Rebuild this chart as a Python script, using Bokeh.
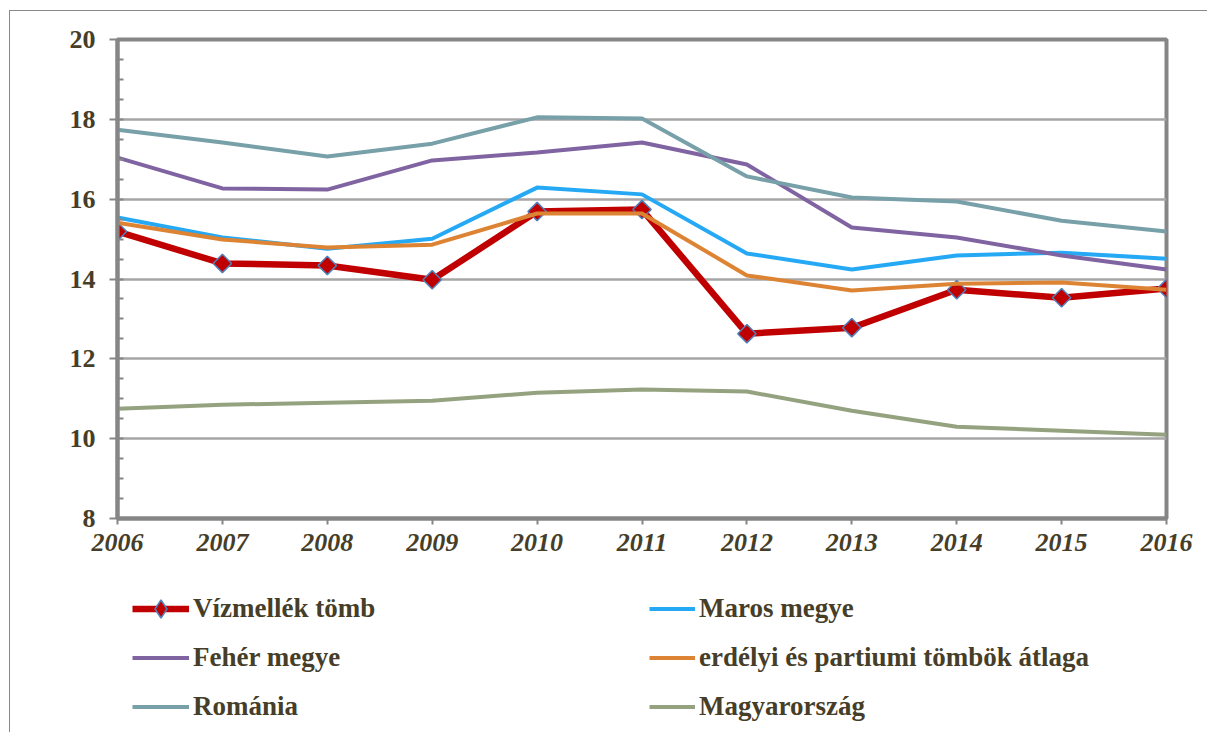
import math
from bokeh.plotting import figure
from bokeh.layouts import column
from bokeh.models import Legend, LegendItem, FixedTicker
from bokeh.embed import file_html
from bokeh.resources import INLINE

years = [2006, 2007, 2008, 2009, 2010, 2011, 2012, 2013, 2014, 2015, 2016]
vizmellek = [15.19, 14.39, 14.34, 13.98, 15.69, 15.74, 12.63, 12.78, 13.73, 13.53, 13.76]
maros = [15.54, 15.04, 14.76, 15.01, 16.29, 16.12, 14.64, 14.24, 14.59, 14.66, 14.51]
feher = [17.04, 16.27, 16.24, 16.97, 17.17, 17.42, 16.87, 15.29, 15.04, 14.59, 14.24]
erdelyi = [15.41, 14.99, 14.79, 14.86, 15.64, 15.64, 14.09, 13.71, 13.88, 13.91, 13.73]
romania = [17.74, 17.42, 17.07, 17.39, 18.05, 18.02, 16.57, 16.04, 15.94, 15.46, 15.19]
magyarorszag = [10.75, 10.85, 10.90, 10.95, 11.15, 11.23, 11.18, 10.70, 10.30, 10.20, 10.10]
y_ticks = [8, 10, 12, 14, 16, 18, 20]

series_names = ["Vízmellék tömb", "Maros megye", "Fehér megye",
                "erdélyi és partiumi tömbök átlaga", "Románia", "Magyarország"]
colors = {"Vízmellék tömb": "#C00000", "Maros megye": "#26A9F5", "Fehér megye": "#8064A2",
          "erdélyi és partiumi tömbök átlaga": "#DD8434", "Románia": "#77A0A9",
          "Magyarország": "#95A27F"}

TXT = "#463E28"
FONT = "Liberation Serif"
AX = "#868686"

p = figure(width=1197, height=548, output_backend="svg", toolbar_location=None,
           x_range=(2006, 2016), y_range=(8, 20),
           min_border_left=107, min_border_right=41, min_border_top=28, min_border_bottom=41)
p.background_fill_color = "white"
p.border_fill_color = "white"
p.outline_line_color = AX
p.outline_line_width = 4

p.xaxis.ticker = FixedTicker(ticks=years)
p.yaxis.ticker = FixedTicker(ticks=y_ticks, minor_ticks=[8 + 0.5 * i for i in range(25)])
for ax in (p.xaxis[0], p.yaxis[0]):
    ax.axis_line_color = AX
    ax.axis_line_width = 4
    ax.major_tick_line_color = AX
    ax.major_tick_line_width = 2
    ax.major_label_text_font = FONT
    ax.major_label_text_color = TXT
    ax.major_label_text_font_size = "26px"
p.xaxis.major_tick_out = 6
p.xaxis.major_tick_in = 0
p.xaxis.minor_tick_line_color = None
p.xaxis.major_label_text_font_style = "bold italic"
p.xaxis.major_label_standoff = 9
p.yaxis.major_label_text_font_style = "bold"
p.yaxis.major_tick_out = 8
p.yaxis.major_tick_in = 0
p.yaxis.minor_tick_in = 6
p.yaxis.minor_tick_out = 0
p.yaxis.minor_tick_line_color = AX
p.yaxis.minor_tick_line_width = 2
p.yaxis.major_label_standoff = 14

p.xgrid.grid_line_color = None
p.ygrid.grid_line_color = "#A6A6A6"
p.ygrid.grid_line_width = 2.5

p.line(years, vizmellek, line_color=colors["Vízmellék tömb"], line_width=6.5)
p.scatter(years, vizmellek, marker="square", angle=math.pi / 4, size=13,
          fill_color=colors["Vízmellék tömb"], line_color="#4F81BD", line_width=1.5)
p.line(years, maros, line_color=colors["Maros megye"], line_width=4)
p.line(years, feher, line_color=colors["Fehér megye"], line_width=4)
p.line(years, erdelyi, line_color=colors["erdélyi és partiumi tömbök átlaga"], line_width=4)
p.line(years, romania, line_color=colors["Románia"], line_width=4)
p.line(years, magyarorszag, line_color=colors["Magyarország"], line_width=4)

# legend area as a second, axis-less figure (its frame is aligned with the chart's frame)
lf = figure(width=1197, height=173, output_backend="svg", toolbar_location=None,
            x_range=(0, 1), y_range=(0, 1), x_axis_type=None, y_axis_type=None,
            min_border_left=107, min_border_right=41, min_border_top=0, min_border_bottom=0)
lf.outline_line_color = None
lf.background_fill_color = "white"
lf.border_fill_color = "white"
lf.grid.visible = False

items = {}
for name in series_names:
    lw = 6.5 if name == "Vízmellék tömb" else 4
    rl = lf.line([-5, -4], [-5, -4], line_color=colors[name], line_width=lw)
    rs = [rl]
    if name == "Vízmellék tömb":
        rs.append(lf.scatter([-5], [-5], marker="diamond", size=18,
                             fill_color=colors[name], line_color="#4F81BD", line_width=1.5))
    items[name] = LegendItem(label=name, renderers=rs)

def mk_legend(names, x, y, gw):
    return Legend(items=[items[n] for n in names], location=(x, y), orientation="vertical",
                  glyph_width=gw, glyph_height=45, label_height=30, spacing=4,
                  padding=0, margin=0, label_standoff=4,
                  label_text_font=FONT, label_text_font_style="bold",
                  label_text_font_size="27px", label_text_color=TXT,
                  border_line_alpha=0, background_fill_alpha=0)

lf.add_layout(mk_legend(["Vízmellék tömb", "Fehér megye", "Románia"], 15, 3, 57))
lf.add_layout(mk_legend(["Maros megye", "erdélyi és partiumi tömbök átlaga", "Magyarország"],
                        532, 3, 46))

layout = column(p, lf, spacing=0, margin=(10, 0, 0, 9),
                styles={"border-top": "1.5px solid #898989",
                        "border-left": "1.5px solid #898989"})

open("out.html", "w").write(file_html(layout, INLINE))
